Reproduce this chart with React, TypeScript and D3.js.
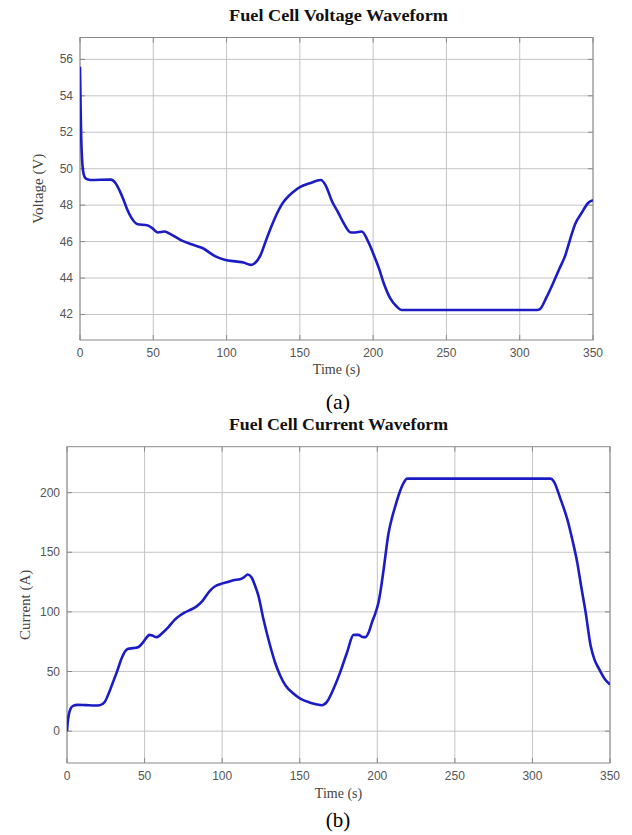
import React from "react";
import * as d3 from "d3";

const timeTicks = [0, 50, 100, 150, 200, 250, 300, 350];
const voltageTicks = [42, 44, 46, 48, 50, 52, 54, 56];
const currentTicks = [0, 50, 100, 150, 200];

const voltTime = [0, 0.4, 0.8, 1.5, 2.5, 4, 7, 21, 24.3, 27, 29.7, 32, 35.1, 39.4, 45.8, 49.1, 53, 57.7, 62, 69.5, 76, 83.5, 92.1, 98.6, 107.2, 111.5, 116.5, 119, 123.4, 126.6, 130.9, 137.4, 145.9, 150.3, 156.7, 164.3, 167.5, 172, 176.1, 180, 184.7, 187.9, 192.2, 196.6, 200.8, 204.1, 207.3, 211.6, 215.9, 219.2, 311.7, 313.8, 318, 322.9, 327, 330.9, 334.3, 337.7, 342.3, 346.8, 350];
const voltValues = [55.6, 53.5, 51.8, 50.4, 49.7, 49.45, 49.38, 49.4, 49.2, 48.8, 48.3, 47.8, 47.3, 46.95, 46.9, 46.75, 46.5, 46.55, 46.4, 46.05, 45.85, 45.65, 45.2, 45.0, 44.9, 44.85, 44.72, 44.8, 45.3, 46.0, 46.9, 48.0, 48.75, 49.0, 49.2, 49.38, 49.1, 48.2, 47.6, 47.0, 46.5, 46.5, 46.55, 46.0, 45.2, 44.5, 43.7, 42.9, 42.45, 42.25, 42.25, 42.3, 42.9, 43.74, 44.5, 45.2, 46.1, 46.94, 47.58, 48.13, 48.27];

const currTime = [0, 0.5, 1.2, 2.2, 3.9, 6.8, 12, 18, 21.1, 24.3, 27, 29.7, 32.5, 35.1, 37.5, 39.4, 42.5, 45.8, 49.1, 51.5, 53, 55, 57.7, 60, 62, 65.5, 69.5, 73, 76, 80, 83.5, 87.5, 92.1, 95.5, 98.6, 103, 107.2, 111.5, 114, 116.5, 119, 121.2, 123.4, 126.6, 130.9, 134, 137.4, 141, 145.9, 150.3, 156.7, 160.5, 164.3, 167.5, 171.8, 176.1, 180.5, 184.7, 187.9, 190, 192.2, 194.5, 196.6, 198.8, 200.8, 202.5, 204.1, 207.3, 209.5, 211.6, 213.8, 215.9, 217.7, 219.2, 311.7, 313.8, 318, 322.5, 325.8, 328.9, 331.6, 334.3, 337.5, 340, 342.9, 346.5, 350];
const currValues = [0, 8, 14, 18.5, 21.2, 22.0, 21.8, 21.5, 21.7, 24.5, 32, 41.2, 51, 60.7, 67, 69, 69.6, 70.4, 74.6, 78.8, 80.7, 80.2, 78.8, 80.5, 82.9, 87.5, 93.5, 97.2, 99.6, 102, 104.6, 109.5, 117.7, 121.5, 123.2, 124.8, 126.6, 127.4, 129, 131.3, 128.8, 122, 113.5, 94, 71.8, 58, 46.7, 38, 31.5, 27.2, 23.9, 22.6, 21.7, 24.5, 35.5, 49.5, 66, 80.7, 80.7, 79.2, 78.8, 83, 91.3, 99, 108, 121, 135.7, 166.4, 179, 188.6, 198, 205.3, 209.8, 211.7, 211.7, 209.4, 195, 177.5, 160, 141.3, 120, 99.6, 71.8, 60, 52.3, 44, 39];

type PanelProps = {
  id: string;
  title: string;
  yLabel: string;
  caption: string;
  times: number[];
  values: number[];
  yTicks: number[];
  yDomain: [number, number];
  left: number;
  right: number;
  top: number;
  bottom: number;
  yLabelX: number;
  timeLabelDy: number;
  captionDy: number;
  captionSize: number;
};

function Panel(p: PanelProps) {
  const x = d3.scaleLinear().domain([0, 350]).range([p.left, p.right]);
  const y = d3.scaleLinear().domain(p.yDomain).range([p.bottom, p.top]);
  const pts = p.times.map((t, i) => [t, p.values[i]] as [number, number]);
  const line = d3
    .line<[number, number]>()
    .x((d) => x(d[0]))
    .y((d) => y(d[1]))
    .curve(d3.curveMonotoneX);
  const cx = (p.left + p.right) / 2;
  const cy = (p.top + p.bottom) / 2;
  const gridColor = "#c4c4c4";
  const axisColor = "#8a8a8a";
  return (
    <g>
      <defs>
        <clipPath id={p.id}>
          <rect x={p.left} y={p.top} width={p.right - p.left} height={p.bottom - p.top} />
        </clipPath>
      </defs>
      <text
        x={338.5}
        y={p.top - 17}
        textAnchor="middle"
        fontFamily="'Liberation Serif', 'Times New Roman', serif"
        fontWeight="bold"
        fontSize={17}
        fill="#111"
        textLength={219}
        lengthAdjust="spacingAndGlyphs"
      >
        {p.title}
      </text>
      {timeTicks.map((t) => (
        <line key={"gx" + t} x1={x(t)} x2={x(t)} y1={p.top} y2={p.bottom} stroke={gridColor} strokeWidth={1} />
      ))}
      {p.yTicks.map((v) => (
        <line key={"gy" + v} x1={p.left} x2={p.right} y1={y(v)} y2={y(v)} stroke={gridColor} strokeWidth={1} />
      ))}
      <rect x={p.left} y={p.top} width={p.right - p.left} height={p.bottom - p.top} fill="none" stroke={axisColor} strokeWidth={1} />
      {timeTicks.map((t) => (
        <g key={"tx" + t}>
          <line x1={x(t)} x2={x(t)} y1={p.bottom} y2={p.bottom - 5} stroke={axisColor} />
          <line x1={x(t)} x2={x(t)} y1={p.top} y2={p.top + 5} stroke={axisColor} />
          <text
            x={x(t)}
            y={p.bottom + 17}
            textAnchor="middle"
            fontFamily="'Liberation Sans', Arial, sans-serif"
            fontSize={12}
            fill="#555"
          >
            {t}
          </text>
        </g>
      ))}
      {p.yTicks.map((v) => (
        <g key={"ty" + v}>
          <line x1={p.left} x2={p.left + 5} y1={y(v)} y2={y(v)} stroke={axisColor} />
          <line x1={p.right} x2={p.right - 5} y1={y(v)} y2={y(v)} stroke={axisColor} />
          <text
            x={p.left - 7}
            y={y(v) + 4}
            textAnchor="end"
            fontFamily="'Liberation Sans', Arial, sans-serif"
            fontSize={12}
            fill="#555"
          >
            {v}
          </text>
        </g>
      ))}
      <path d={line(pts) || ""} fill="none" stroke="#1c1cc4" strokeWidth={2.6} strokeLinejoin="round" clipPath={`url(#${p.id})`} />
      <text
        x={cx}
        y={p.bottom + p.timeLabelDy}
        textAnchor="middle"
        fontFamily="'Liberation Serif', 'Times New Roman', serif"
        fontSize={14}
        fill="#444"
      >
        Time (s)
      </text>
      <text
        transform={`translate(${p.yLabelX},${cy}) rotate(-90)`}
        textAnchor="middle"
        fontFamily="'Liberation Serif', 'Times New Roman', serif"
        fontSize={15}
        fill="#444"
      >
        {p.yLabel}
      </text>
      <text
        x={338}
        y={p.bottom + p.captionDy}
        textAnchor="middle"
        fontFamily="'Liberation Serif', 'Times New Roman', serif"
        fontSize={p.captionSize}
        fill="#000"
      >
        {p.caption}
      </text>
    </g>
  );
}

export default function App() {
  return (
    <svg width={632} height={835} style={{ position: "absolute", left: 0, top: 0, background: "#fff" }}>
      <rect x={0} y={0} width={632} height={835} fill="#fff" />
      <Panel
        id="clipV"
        title="Fuel Cell Voltage Waveform"
        yLabel="Voltage (V)"
        caption="(a)"
        times={voltTime}
        values={voltValues}
        yTicks={voltageTicks}
        yDomain={[40.6, 57.2]}
        left={80}
        right={593}
        top={37.5}
        bottom={340}
        yLabelX={43}
        timeLabelDy={34}
        captionDy={69}
        captionSize={22}
      />
      <Panel
        id="clipC"
        title="Fuel Cell Current Waveform"
        yLabel="Current (A)"
        caption="(b)"
        times={currTime}
        values={currValues}
        yTicks={currentTicks}
        yDomain={[-26.7, 238.5]}
        left={67}
        right={610}
        top={446.7}
        bottom={763}
        yLabelX={30}
        timeLabelDy={35}
        captionDy={64}
        captionSize={21}
      />
    </svg>
  );
}
